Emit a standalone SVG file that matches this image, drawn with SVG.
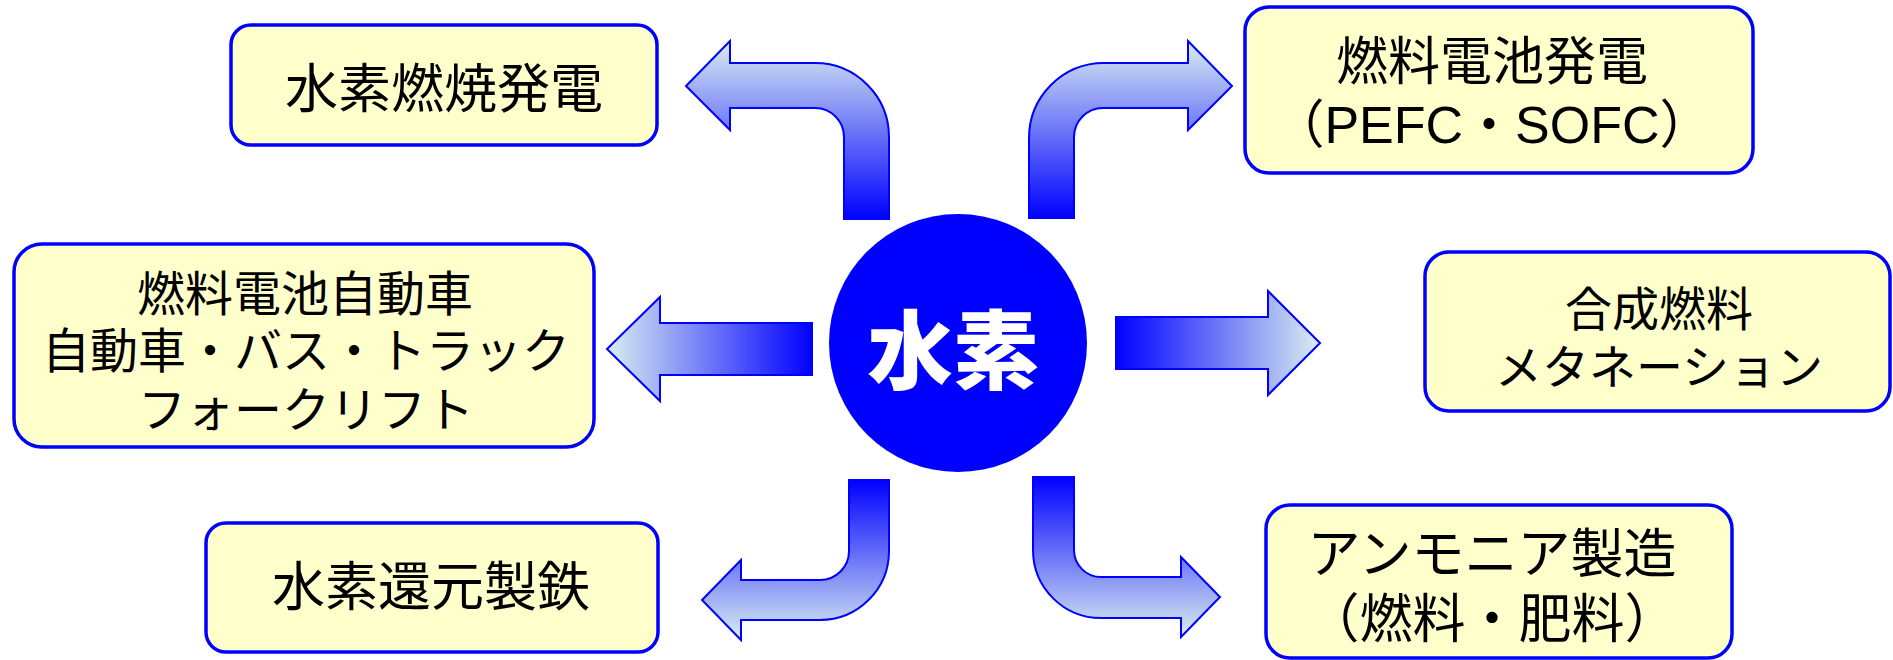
<svg xmlns="http://www.w3.org/2000/svg" width="1893" height="660" viewBox="0 0 1893 660">
<defs>
<linearGradient id="gDown" x1="0" y1="0" x2="0" y2="1"><stop offset="0" stop-color="#daeef0"/><stop offset="1" stop-color="#0000ff"/></linearGradient>
<linearGradient id="gUp" x1="0" y1="0" x2="0" y2="1"><stop offset="0" stop-color="#0000ff"/><stop offset="1" stop-color="#daeef0"/></linearGradient>
<linearGradient id="gRight" x1="0" y1="0" x2="1" y2="0"><stop offset="0" stop-color="#daeef0"/><stop offset="1" stop-color="#0000ff"/></linearGradient>
<linearGradient id="gLeft" x1="0" y1="0" x2="1" y2="0"><stop offset="0" stop-color="#0000ff"/><stop offset="1" stop-color="#daeef0"/></linearGradient>
<style>
.box{fill:#ffffcc;stroke:#0000ff;stroke-width:3.5}
.arr{stroke:#0000ff;stroke-width:2;stroke-linejoin:miter}
.t{font-family:"Noto Sans CJK JP","Noto Sans",sans-serif;fill:#000;text-anchor:middle}
.lat{font-family:"Liberation Sans","Noto Sans CJK JP",sans-serif}
.c{font-family:"Noto Sans CJK JP",sans-serif;font-weight:900;fill:#fff;text-anchor:middle}
</style>
</defs>
<g id="connectors">
<path class="arr" fill="url(#gDown)" d="M 889 219 L 889 137 A 74 74 0 0 0 815 63 L 730 63 L 730 41 L 686 86 L 730 130 L 730 108 L 815 108 A 29 29 0 0 1 844 137 L 844 219 Z"/>
<path class="arr" fill="url(#gDown)" d="M 1029 218 L 1029 138 A 75 75 0 0 1 1104 63 L 1188 63 L 1188 41 L 1232 86 L 1188 130 L 1188 108 L 1103 108 A 29 29 0 0 0 1074 137 L 1074 218 Z"/>
<path class="arr" fill="url(#gRight)" d="M 812 323 L 660 323 L 660 297 L 607 349 L 660 401 L 660 375 L 812 375 Z"/>
<path class="arr" fill="url(#gLeft)" d="M 1116 317 L 1268 317 L 1268 291 L 1320 343 L 1268 395 L 1268 369 L 1116 369 Z"/>
<path class="arr" fill="url(#gUp)" d="M 849 480 L 889 480 L 889 551 A 69 69 0 0 1 820 620 L 741 620 L 741 640 L 702 600 L 741 560 L 741 580 L 820 580 A 29 29 0 0 0 849 551 Z"/>
<path class="arr" fill="url(#gUp)" d="M 1033 477 L 1074 477 L 1074 550 A 27 27 0 0 0 1101 577 L 1181 577 L 1181 557 L 1220 597 L 1181 637 L 1181 618 L 1101 618 A 68 68 0 0 1 1033 550 Z"/>
</g>
<g id="hydrogen">
<circle cx="958" cy="343" r="129" fill="#0000ff"/>
<text class="c" x="953" y="383" font-size="86">水素</text>
</g>
<g id="combustion">
<rect class="box" x="231" y="25" width="426" height="120" rx="20"/>
<text class="t" x="444" y="108" font-size="53">水素燃焼発電</text>
</g>
<g id="fuelcell">
<rect class="box" x="1245" y="7" width="508" height="166" rx="24"/>
<text class="t" x="1492" y="80" font-size="52">燃料電池発電</text>
<text class="t lat" x="1492" y="143" font-size="52">（PEFC・SOFC）</text>
</g>
<g id="fcv">
<rect class="box" x="14" y="244" width="580" height="203" rx="28"/>
<text class="t" x="305" y="311" font-size="48">燃料電池自動車</text>
<text class="t" x="306" y="368" font-size="48">自動車・バス・トラック</text>
<text class="t" x="306" y="427" font-size="48">フォークリフト</text>
</g>
<g id="synfuel">
<rect class="box" x="1425" y="252" width="465" height="159" rx="24"/>
<text class="t" x="1659" y="326" font-size="47">合成燃料</text>
<text class="t" x="1659" y="384" font-size="47">メタネーション</text>
</g>
<g id="steel">
<rect class="box" x="206" y="523" width="452" height="129" rx="20"/>
<text class="t" x="431" y="606" font-size="53">水素還元製鉄</text>
</g>
<g id="ammonia">
<rect class="box" x="1266" y="505" width="466" height="153" rx="24"/>
<text class="t" x="1492" y="573" font-size="53">アンモニア製造</text>
<text class="t" x="1492" y="638" font-size="53">（燃料・肥料）</text>
</g>
</svg>
